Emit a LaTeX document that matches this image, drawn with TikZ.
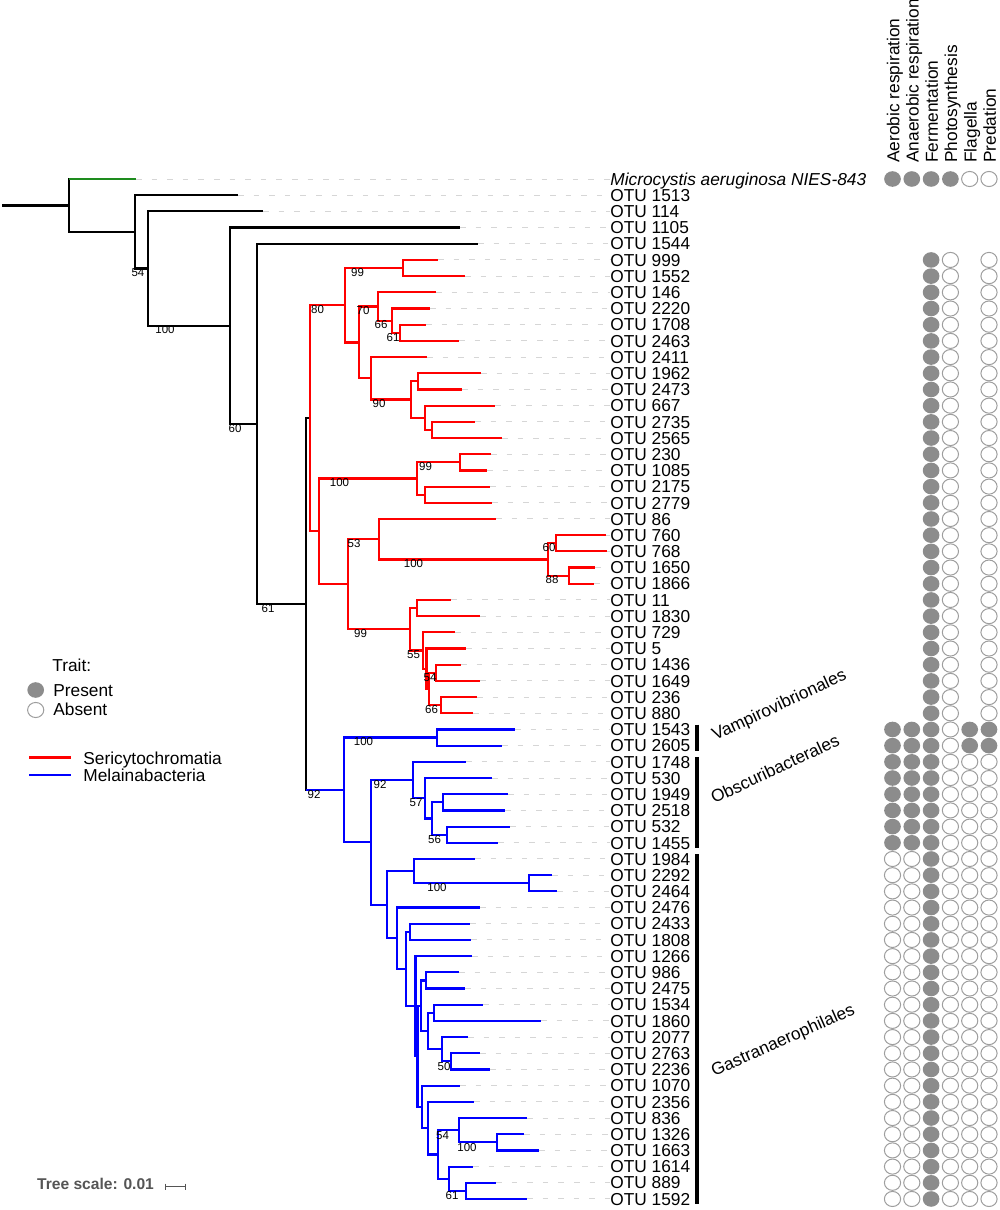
\documentclass[tikz,border=0pt]{standalone}
\usepackage{fontspec}
\setmainfont{Liberation Sans}
\usetikzlibrary{shapes.geometric}
\definecolor{trgray}{HTML}{8C8C8C}
\definecolor{abgray}{HTML}{9E9E9E}
\definecolor{ldrc}{HTML}{D6D6D6}
\definecolor{grn}{HTML}{1E8C1E}
\definecolor{scl}{HTML}{555555}
\newcommand\lblfont{\fontsize{8.65pt}{10pt}\selectfont}
\newcommand\supfont{\fontsize{5.75pt}{7pt}\selectfont}
\newcommand\sclfont{\fontsize{7.8pt}{9pt}\selectfont\bfseries}
\begin{document}
\begin{tikzpicture}[x=0.5pt,y=-0.5pt,
  br/.style={line width=1.1pt},
  kbr/.style={br,black},
  rbr/.style={br,red},
  bbr/.style={br,blue},
  gbr/.style={br,grn},
  ldr/.style={draw=ldrc,line width=0.5pt,dash pattern=on 2.8pt off 5pt},
  lab/.style={anchor=west,inner sep=0pt,text height=6.2pt,text depth=0pt,font=\lblfont},
  sup/.style={inner sep=0pt,font=\supfont},
  pres/.style={ellipse,inner sep=0pt,minimum width=8.35pt,minimum height=7.8pt,fill=trgray},
  absn/.style={ellipse,inner sep=0pt,minimum width=8.1pt,minimum height=7.55pt,draw=abgray,line width=0.5pt,fill=white},
  hdr/.style={rotate=90,anchor=base west,inner sep=0pt,font=\lblfont},
  clade/.style={anchor=base west,inner sep=0pt,font=\lblfont},
  cbar/.style={line width=1.65pt,black},
  legtxt/.style={anchor=base west,inner sep=0pt,font=\lblfont},
]
\useasboundingbox (0,0) rectangle (1000,1210);

% ---------- tree, in row units ----------
\begin{scope}[yshift=-89.5pt,y=-8.095pt]
  % leaves
  \foreach \i/\tx/\nm in {
    0/136/{\textit{Microcystis aeruginosa NIES-843}},
    1/238/OTU 1513, 2/263/OTU 114, 3/460/OTU 1105, 4/478/OTU 1544,
    5/438/OTU 999, 6/465/OTU 1552, 7/436/OTU 146, 8/430/OTU 2220,
    9/426/OTU 1708, 10/459/OTU 2463, 11/427/OTU 2411, 12/481/OTU 1962,
    13/462/OTU 2473, 14/495/OTU 667, 15/475/OTU 2735, 16/502/OTU 2565,
    17/491/OTU 230, 18/487/OTU 1085, 19/490/OTU 2175, 20/492/OTU 2779,
    21/496/OTU 86, 22/606/OTU 760, 23/607/OTU 768, 24/595/OTU 1650,
    25/594/OTU 1866, 26/451/OTU 11, 27/480/OTU 1830, 28/455/OTU 729,
    29/466/OTU 5, 30/461/OTU 1436, 31/480/OTU 1649, 32/477/OTU 236,
    33/473/OTU 880, 34/515/OTU 1543, 35/502/OTU 2605, 36/466/OTU 1748,
    37/492/OTU 530, 38/508/OTU 1949, 39/505/OTU 2518, 40/510/OTU 532,
    41/498/OTU 1455, 42/475/OTU 1984, 43/552/OTU 2292, 44/557/OTU 2464,
    45/480/OTU 2476, 46/470/OTU 2433, 47/471/OTU 1808, 48/472/OTU 1266,
    49/459/OTU 986, 50/465/OTU 2475, 51/483/OTU 1534, 52/541/OTU 1860,
    53/468/OTU 2077, 54/480/OTU 2763, 55/490/OTU 2236, 56/460/OTU 1070,
    57/474/OTU 2356, 58/527/OTU 836, 59/524/OTU 1326, 60/539/OTU 1663,
    61/473/OTU 1614, 62/496/OTU 889, 63/527/OTU 1592}{
    \coordinate (t\i) at (\tx,\i);
    \node[lab] (l\i) at (610,\i) {\nm};
    \draw[ldr] (t\i) -- (l\i.west);
  }
  % internal nodes
  \foreach \n/\x/\y in {
    A/69/1.633, B/135/3.266, C/148/5.5325, D/230/9.065, E/257/15.13, F/306/26.259,
    SR/310/14.78125, R1/345/7.796875, n999/403/5.5, n70/359/10.09375,
    n146/378/7.875, n2220/392/8.75, n1708/400/9.5, n2411/371/12.3125,
    n411/411/13.625, n1962/418/12.5, n667/425/14.75, n2735/432/15.5,
    R2/319/21.765625, R3/417/18.5, n230/460/17.5, n2175/425/19.5,
    R4/348/25.03125, R5/379/22.25, R6/548/23.5, n760/556/22.5, n1650/569/24.5,
    R7/410/27.8125, n11/417/26.5, R8/423/29.125, R9/426.5/30.25, R10/429/31.5,
    n1436/436/30.5, n236/441/32.5,
    M/344/37.7373, V/437/34.5, M2/371/40.9746, O/413/37.125, O2/425/38.25,
    O3/432/39.5, n1949/443/38.5, n532/447/40.5, G/387/44.8242, G1/414/42.75,
    n2292/529/43.5, G2/397/46.8984, G3/406/48.7969, n2433/410/46.5,
    G4/415.5/51.0938, G5/417.5/54.1875, G6/421/51.0625, n986/426/49.5,
    G7/428/52.625, n1534/434/51.5, G8/442/53.75, n2763/451/54.5,
    G9/422/57.3125, G10/428/58.625, G11/438/60.25, G12/459/58.75,
    n1326/497/59.5, G13/449/61.75, n889/466/62.5}{
    \coordinate (\n) at (\x,\y);
  }
  \coordinate (root) at (2,1.633);

  % black backbone
  \draw[kbr] (root) -- (A);
  \foreach \p/\c in {A/t0, A/B, B/t1, B/C, C/t2, C/D, D/t3, D/E, E/t4, E/F, F/SR, F/M}
    \draw[kbr] (\p) |- (\c);
  \draw[gbr] (A |- t0) -- (t0);
  \draw[bbr] (F |- M) -- (M);

  % Sericytochromatia (red)
  \foreach \p/\c in {SR/R1, SR/R2, R1/n999, R1/n70, n999/t5, n999/t6,
    n70/n146, n70/n2411, n146/t7, n146/n2220, n2220/t8, n2220/n1708,
    n1708/t9, n1708/t10, n2411/t11, n2411/n411, n411/n1962, n411/n667,
    n1962/t12, n1962/t13, n667/t14, n667/n2735, n2735/t15, n2735/t16,
    R2/R3, R2/R4, R3/n230, R3/n2175, n230/t17, n230/t18, n2175/t19, n2175/t20,
    R4/R5, R4/R7, R5/t21, R5/R6, R6/n760, R6/n1650, n760/t22, n760/t23,
    n1650/t24, n1650/t25, R7/n11, R7/R8, n11/t26, n11/t27, R8/t28, R8/R9,
    R9/t29, R9/R10, R10/n1436, R10/n236, n1436/t30, n1436/t31, n236/t32, n236/t33}
    \draw[rbr] (\p) |- (\c);

  % Melainabacteria (blue)
  \foreach \p/\c in {M/V, M/M2, V/t34, V/t35, M2/O, M2/G, O/t36, O/O2,
    O2/t37, O2/O3, O3/n1949, O3/n532, n1949/t38, n1949/t39, n532/t40, n532/t41,
    G/G1, G/G2, G1/t42, G1/n2292, n2292/t43, n2292/t44, G2/t45, G2/G3,
    G3/n2433, G3/G4, n2433/t46, n2433/t47, G4/t48, G4/G5, G5/G6, G5/G9,
    G6/n986, G6/G7, n986/t49, n986/t50, G7/n1534, G7/G8, n1534/t51, n1534/t52,
    G8/t53, G8/n2763, n2763/t54, n2763/t55, G9/t56, G9/G10, G10/t57, G10/G11,
    G11/G12, G11/G13, G12/t58, G12/n1326, n1326/t59, n1326/t60,
    G13/t61, G13/n889, n889/t62, n889/t63}
    \draw[bbr] (\p) |- (\c);

  % clade bars
  \draw[cbar] (697,33.7) -- (697,35.3);
  \draw[cbar] (697,35.7) -- (697,41.3);
  \draw[cbar] (697,41.7) -- (697,63.3);

  % trait circles
  \foreach \j/\cx in {1/892.5,2/911.8,3/931.1,4/950.4}
    \node[pres] (c0-\j) at (\cx,0) {};
  \foreach \j/\cx in {5/969.7,6/989}
    \node[absn] (c0-\j) at (\cx,0) {};
  \foreach \r in {5,...,33}{
    \node[pres] (c\r-3) at (931.1,\r) {};
    \node[absn] (c\r-4) at (950.4,\r) {};
    \node[absn] (c\r-6) at (989,\r) {};
  }
  \foreach \r in {34,35}{
    \foreach \j/\cx in {1/892.5,2/911.8,3/931.1,5/969.7,6/989}
      \node[pres] (c\r-\j) at (\cx,\r) {};
    \node[absn] (c\r-4) at (950.4,\r) {};
  }
  \foreach \r in {36,...,41}{
    \foreach \j/\cx in {1/892.5,2/911.8,3/931.1}
      \node[pres] (c\r-\j) at (\cx,\r) {};
    \foreach \j/\cx in {4/950.4,5/969.7,6/989}
      \node[absn] (c\r-\j) at (\cx,\r) {};
  }
  \foreach \r in {42,...,63}{
    \foreach \j/\cx in {1/892.5,2/911.8,4/950.4,5/969.7,6/989}
      \node[absn] (c\r-\j) at (\cx,\r) {};
    \node[pres] (c\r-3) at (931.1,\r) {};
  }
\end{scope}

% ---------- support values ----------
\foreach \k/\x/\y/\v in {
  1/138/273/54, 2/165/330/100, 3/235/428.5/60, 4/268/608.5/61, 5/314/795/92,
  6/317.5/310/80, 7/357.5/273/99, 8/363/311/70, 9/381/325/66, 10/393/337.5/61,
  11/379/404/90, 12/425.5/467/99, 13/339.5/483/100, 14/354/544/53,
  15/413.5/564/100, 16/549/548/60, 17/552/580/88, 18/360.5/634/99,
  19/413.5/655/55, 20/430/678/54, 21/431.5/710/66, 22/363.5/742/100,
  23/380/785/92, 24/416/803/57, 25/434.5/840/56, 26/437/888/100,
  27/444/1066.5/50, 28/442.5/1136/54, 29/467/1147.5/100, 30/452/1196/61}
  \node[sup] (s\k) at (\x,\y) {\v};

% ---------- column headers ----------
\node[hdr] (h1) at (899.3,163) {Aerobic respiration};
\node[hdr] (h2) at (918.6,163) {Anaerobic respiration};
\node[hdr] (h3) at (937.9,163) {Fermentation};
\node[hdr] (h4) at (957.2,163) {Photosynthesis};
\node[hdr] (h5) at (976.5,163) {Flagella};
\node[hdr] (h6) at (995.8,163) {Predation};

% ---------- clade names ----------
\node[clade,rotate=25] (cv) at (715,741) {Vampirovibrionales};
\node[clade,rotate=25] (co) at (714,804) {Obscuribacterales};
\node[clade,rotate=24] (cg) at (714,1077) {Gastranaerophilales};

% ---------- legend ----------
\node[legtxt] (trait) at (52,671) {Trait:};
\node[pres] (lp) at (35.7,690) {};
\node[legtxt] (lpt) at (53,696) {Present};
\node[absn] (la) at (35.7,710) {};
\node[legtxt] (lat) at (53,715.5) {Absent};
\coordinate (lr1) at (29.3,757.3);
\coordinate (lr2) at (70.7,757.3);
\draw[red,line width=1.35pt] (lr1) -- (lr2);
\node[legtxt] (lrt) at (83,764) {Sericytochromatia};
\coordinate (lb1) at (29.3,775);
\coordinate (lb2) at (70.7,775);
\draw[blue,line width=1.35pt] (lb1) -- (lb2);
\node[legtxt] (lbt) at (83,781.5) {Melainabacteria};

% ---------- tree scale ----------
\node[anchor=base west,inner sep=0pt,font=\sclfont,text=scl] (tscale) at (36.7,1189.5) {Tree scale: 0.01};
\coordinate (sb1) at (165.7,1186.5);
\coordinate (sb2) at (185,1186.5);
\draw[scl,line width=0.5pt] (sb1) -- (sb2);
\draw[scl,line width=0.5pt] (165.7,1183.5) -- (165.7,1189.5);
\draw[scl,line width=0.5pt] (185,1183.5) -- (185,1189.5);
\end{tikzpicture}
\end{document}
